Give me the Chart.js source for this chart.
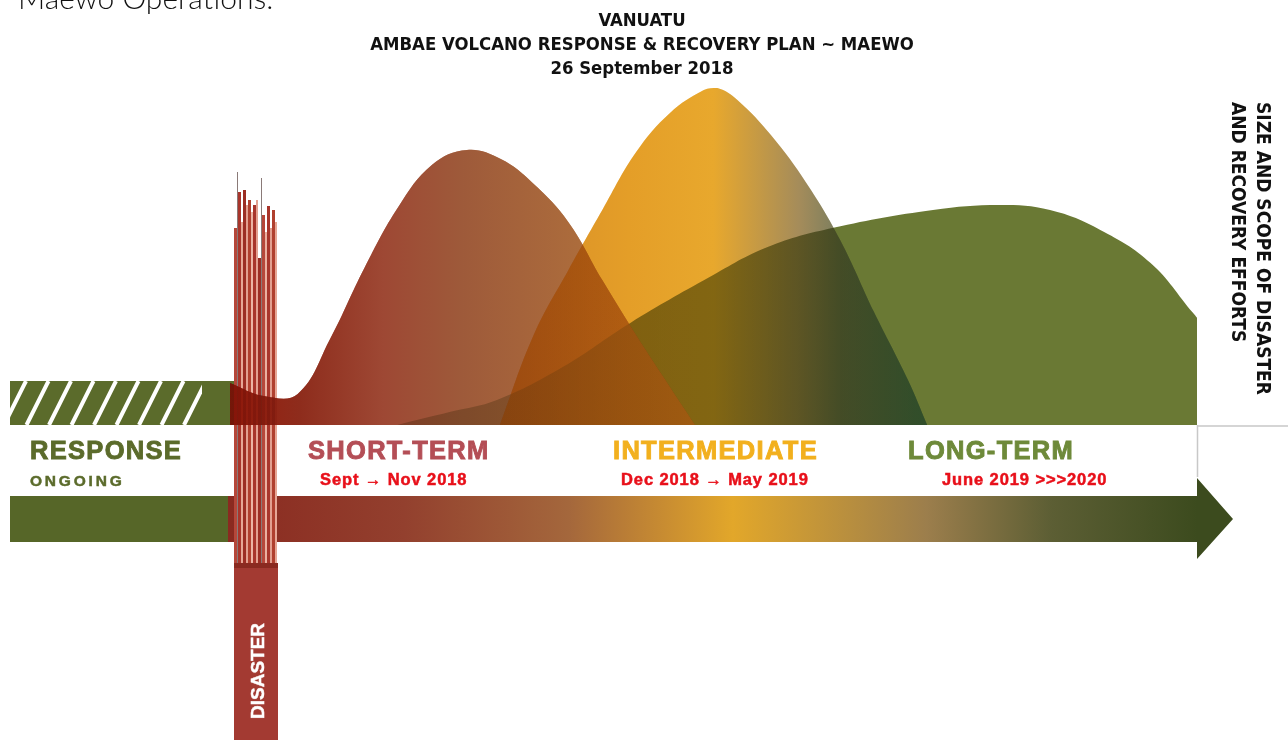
<!DOCTYPE html>
<html>
<head>
<meta charset="utf-8">
<script src="https://cdn.jsdelivr.net/npm/chart.js@4.4.1/dist/chart.umd.min.js"></script>
<style>
  html, body { margin: 0; padding: 0; background: #fff; }
  #wrap { position: relative; width: 1288px; height: 740px; overflow: hidden; }
  #chart { position: absolute; left: 0; top: 0; }
  .t { position: absolute; white-space: nowrap; }
  .intro { left: 18px; top: -21px; font: 300 30px "Lato", "Open Sans", sans-serif; color: #111; }
  .title { left: 292px; width: 700px; top: 8px; text-align: center; font: bold 18.4px "DejaVu Sans Condensed", "DejaVu Sans", sans-serif; line-height: 24px; color: #111; }
  .phase { font: bold 25.5px "Liberation Sans", Arial, sans-serif; letter-spacing: 1.3px; -webkit-text-stroke: 0.9px currentColor; }
  .sub { font: bold 16.5px "Liberation Sans", Arial, sans-serif; color: #e8101a; letter-spacing: 0.9px; -webkit-text-stroke: 0.5px currentColor; }
  .side { left: 1226px; top: 102px; writing-mode: vertical-rl; font: bold 19px "DejaVu Sans Condensed", "DejaVu Sans", sans-serif; line-height: 25px; color: #111; }
  .dis { left: 258px; top: 671px; transform: translate(-50%, -50%) rotate(-90deg); font: bold 19px "Liberation Sans", Arial, sans-serif; color: #fff; -webkit-text-stroke: 0.4px #fff; }
</style>
</head>
<body>
<div id="wrap">
  <canvas id="chart" width="1288" height="740"></canvas>
  <div class="t intro">Maewo Operations.</div>
  <div class="t title">VANUATU<br>AMBAE VOLCANO RESPONSE &amp; RECOVERY PLAN ~ MAEWO<br>26 September 2018</div>
  <div class="t side">SIZE AND SCOPE OF DISASTER<br>AND RECOVERY EFFORTS</div>
  <div class="t phase" style="left:30px;top:436px;color:#5b6b2b;">RESPONSE</div>
  <div class="t sub" style="left:30px;top:472px;color:#5b6b2b;font-size:15.5px;letter-spacing:2.8px;">ONGOING</div>
  <div class="t phase" style="left:308px;top:436px;color:#b44e56;">SHORT-TERM</div>
  <div class="t sub" style="left:320px;top:470px;">Sept → Nov 2018</div>
  <div class="t phase" style="left:613px;top:436px;color:#f2b01e;">INTERMEDIATE</div>
  <div class="t sub" style="left:621px;top:470px;">Dec 2018 → May 2019</div>
  <div class="t phase" style="left:908px;top:436px;color:#6e8a3a;">LONG-TERM</div>
  <div class="t sub" style="left:942px;top:470px;">June 2019 &gt;&gt;&gt;2020</div>
  <div class="t dis">DISASTER</div>
</div>
<script>
// Phase curves: x = position on the recovery timeline (0..100), y = size and scope (0..100)
const phases = ['Short-term', 'Intermediate', 'Long-term'];

const shortX = [0, 3.5, 7.0, 10.4, 13.9, 17.4, 20.9, 24.5, 28.0, 31.3, 35.0, 38.5, 42.0, 45.5, 48.1];
const shortY = [12.5, 8.6, 9.2, 25.8, 46.6, 64.7, 77.2, 81.6, 78.9, 71.8, 60.2, 43.0, 26.7, 11.3, 0];

const interX = [27.9, 31.4, 35.0, 38.5, 42.0, 45.5, 49.0, 50.4, 52.5, 56.0, 59.6, 63.1, 66.6, 70.1, 72.1];
const interY = [0, 26.7, 46.0, 63.8, 81.0, 92.6, 99.4, 100, 96.4, 85.8, 71.8, 54.9, 33.5, 13.4, 0];

const longX = [17.3, 22.8, 27.6, 34.4, 41.4, 49.6, 55.6, 62.4, 72.7, 79.6, 84.8, 90.0, 95.2, 99.6, 100];
const longY = [0, 3.9, 7.4, 17.2, 30.3, 43.9, 52.8, 58.5, 63.8, 65.3, 63.8, 57.9, 48.1, 33.2, 31.8];

// colour stops along each curve [offset, r, g, b]
const shortStops = [[0, 150, 28, 12], [0.15, 142, 44, 28], [0.33, 158, 72, 52], [0.5, 158, 90, 58], [0.75, 172, 108, 60], [1, 185, 125, 65]];
const interStops = [[0, 214, 140, 40], [0.3, 228, 158, 40], [0.5, 232, 168, 45], [0.7, 165, 140, 90], [0.8, 120, 125, 95], [1, 85, 128, 105]];

function points(xs, ys) {
    return xs.map((x, i) => ({ x: x, y: ys[i] }));
}

// horizontal gradient between two timeline values
function hGradient(from, to, stops, alpha) {
    return c => {
        const chart = c.chart;
        if (!chart.chartArea) return 'transparent';
        const xs = chart.scales.x;
        const g = chart.ctx.createLinearGradient(xs.getPixelForValue(from), 0, xs.getPixelForValue(to), 0);
        stops.forEach(s => g.addColorStop(s[0], `rgba(${s[1]},${s[2]},${s[3]},${alpha})`));
        return g;
    };
}

// disaster bar stripes: [left, width, top, colour]
const stripes = [
    [234, 3, 228, '#b5473a'], [237, 1, 172, '#8a7a78'], [238, 3, 192, '#a8352b'], [241, 2, 222, '#e6a796'],
    [243, 3, 190, '#9c2e24'], [246, 2, 205, '#e2a090'], [248, 3, 200, '#b0402f'], [251, 2, 212, '#ecb4a4'],
    [253, 3, 205, '#a8352b'], [256, 2, 200, '#e2a090'], [258, 3, 258, '#9c2e24'], [261, 1, 178, '#8a7a78'],
    [262, 3, 215, '#b5473a'], [265, 2, 232, '#eab0a0'], [267, 3, 206, '#a8352b'], [270, 2, 228, '#e2a090'],
    [272, 3, 210, '#b0402f'], [275, 2, 222, '#e6a796']
];

// composite mode for the dataset drawn after the one with this index
const nextBlend = { 4: 'multiply', 3: 'source-over', 2: 'multiply', 1: 'source-over' };

const decor = {
    id: 'decor',
    beforeDatasetsDraw(chart) {
        const ctx = chart.ctx;
        const xs = chart.scales.x, ys = chart.scales.y;
        const x0 = xs.getPixelForValue(0), x1 = xs.getPixelForValue(100);
        const base = ys.getPixelForValue(0);
        ctx.save();

        // response bar (hatched)
        ctx.fillStyle = '#5b6b2b';
        ctx.fillRect(10, base - 44, x0 - 5, 44);
        ctx.save();
        ctx.beginPath();
        ctx.rect(10, base - 44, 192, 44);
        ctx.clip();
        ctx.strokeStyle = '#fff';
        ctx.lineWidth = 4;
        for (let i = 0; i < 10; i++) {
            const sx = 4 + i * 22.5;
            ctx.beginPath();
            ctx.moveTo(sx, base);
            ctx.lineTo(sx + 22, base - 44);
            ctx.stroke();
        }
        ctx.restore();

        // thin baseline to the right
        ctx.strokeStyle = '#c8c8c8';
        ctx.lineWidth = 1.5;
        ctx.beginPath();
        ctx.moveTo(x1, base + 1);
        ctx.lineTo(1288, base + 1);
        ctx.moveTo(x1 + 0.5, base);
        ctx.lineTo(x1 + 0.5, base + 52);
        ctx.stroke();

        // timeline arrow
        const top = base + 71, bot = base + 117;
        ctx.fillStyle = '#566628';
        ctx.fillRect(10, top, x0 - 8, bot - top);
        const g = ctx.createLinearGradient(x0, 0, x1, 0);
        g.addColorStop(0, '#8a2a20');
        g.addColorStop(0.18, '#93402e');
        g.addColorStop(0.35, '#a4673c');
        g.addColorStop(0.52, '#e2a72a');
        g.addColorStop(0.72, '#9c7e4c');
        g.addColorStop(0.85, '#5c5e34');
        g.addColorStop(1, '#3c4b1e');
        ctx.fillStyle = g;
        ctx.beginPath();
        ctx.moveTo(x0 - 2, top);
        ctx.lineTo(x1, top);
        ctx.lineTo(x1, base + 53);
        ctx.lineTo(x1 + 36, (top + bot) / 2);
        ctx.lineTo(x1, base + 134);
        ctx.lineTo(x1, bot);
        ctx.lineTo(x0 - 2, bot);
        ctx.closePath();
        ctx.fill();

        // disaster bar
        stripes.forEach(s => {
            ctx.fillStyle = s[3];
            ctx.fillRect(s[0], s[2], s[1], 565 - s[2]);
        });
        ctx.fillStyle = '#8a2a20';
        ctx.fillRect(234, 563, 44, 6);
        ctx.fillStyle = '#a33a32';
        ctx.fillRect(234, 568, 44, 172);
        ctx.restore();
    },
    // phases are blended over the ones behind: a multiply pass, then a light tint pass
    afterDatasetDraw(chart, args) {
        if (nextBlend[args.index]) chart.ctx.globalCompositeOperation = nextBlend[args.index];
    }
};

document.addEventListener('DOMContentLoaded', function() {
    const ctx = document.getElementById('chart').getContext('2d');
    const intermediate = points(interX, interY);
    const shortTerm = points(shortX, shortY);
    new Chart(ctx, {
        type: 'line',
        data: {
            datasets: [
                { label: phases[1], data: intermediate, order: 0, backgroundColor: hGradient(28, 72, interStops, 0.25) },
                { label: phases[1] + ' blend', data: intermediate, order: 1, backgroundColor: hGradient(28, 72, interStops, 1) },
                { label: phases[0], data: shortTerm, order: 2, backgroundColor: hGradient(0, 48, shortStops, 0.65) },
                { label: phases[0] + ' blend', data: shortTerm, order: 3, backgroundColor: hGradient(0, 48, shortStops, 1) },
                { label: phases[2], data: points(longX, longY), order: 4, backgroundColor: '#6a7934' }
            ]
        },
        options: {
            responsive: false,
            animation: false,
            layout: { padding: { left: 230, right: 91, top: 88, bottom: 315 } },
            datasets: { line: { clip: false } },
            elements: {
                line: { fill: 'origin', borderWidth: 0, tension: 0.4 },
                point: { radius: 0 }
            },
            scales: {
                x: { type: 'linear', min: 0, max: 100, display: false },
                y: { min: 0, max: 100, display: false }
            },
            plugins: { legend: { display: false }, tooltip: { enabled: false } }
        },
        plugins: [decor]
    });
});
</script>
</body>
</html>
